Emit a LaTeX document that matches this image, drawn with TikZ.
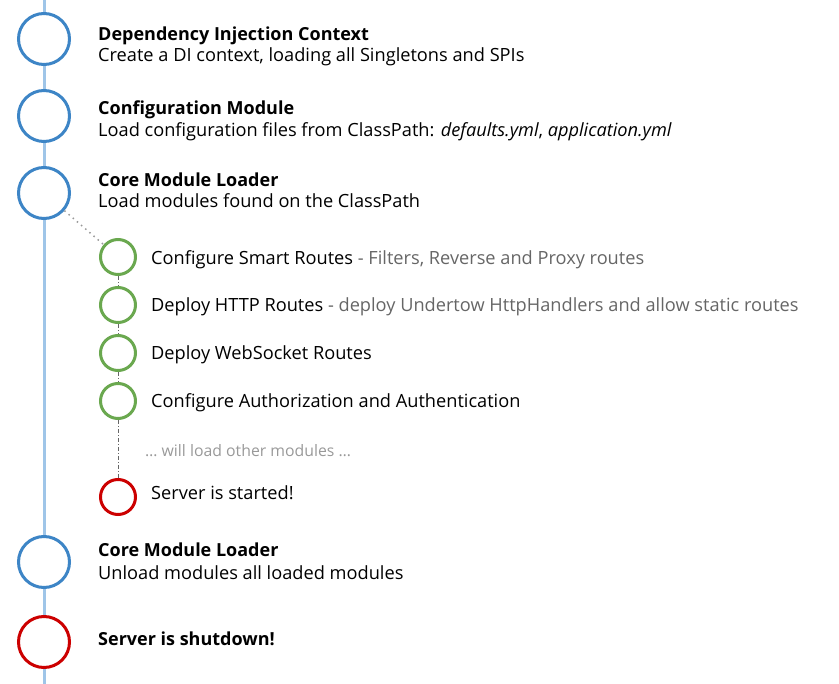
\documentclass[tikz,border=0pt]{standalone}
\usepackage{fontspec}
\setmainfont{Open Sans}
\definecolor{tlline}{HTML}{9FC5E8}
\definecolor{tlblue}{HTML}{3D85C6}
\definecolor{tlgreen}{HTML}{6AA84F}
\definecolor{tlred}{HTML}{CC0000}
\definecolor{tlgray}{HTML}{666666}
\definecolor{tllight}{HTML}{999999}
\tikzset{
  bigc/.style={circle,draw=#1,line width=3pt,fill=white,minimum size=51pt,inner sep=0pt},
  smallc/.style={circle,draw=#1,line width=3pt,fill=white,minimum size=35pt,inner sep=0pt},
  txt/.style={anchor=base west,inner sep=0pt,font=\fontsize{18.2}{22}\selectfont},
  ttl/.style={txt,font=\fontsize{18}{22}\selectfont\bfseries},
  small/.style={anchor=base west,inner sep=0pt,font=\fontsize{15.8}{18}\selectfont,text=tllight},
}
\begin{document}
\begin{tikzpicture}[x=1pt,y=-1pt]
\useasboundingbox (0,0) rectangle (839,684);
\coordinate (top) at (44,0);
\coordinate (bot) at (44,684);
\draw[tlline,line width=3pt] (top) -- (bot);
% big circles
\node[bigc=tlblue] (c1) at (44,39) {};
\node[bigc=tlblue] (c2) at (44,116) {};
\node[bigc=tlblue] (c3) at (44,193) {};
\node[bigc=tlblue] (c4) at (44,562) {};
\node[bigc=tlred] (c5) at (44,642) {};
% small circles
\node[smallc=tlgreen] (g1) at (118,257) {};
\node[smallc=tlgreen] (g2) at (118,305) {};
\node[smallc=tlgreen] (g3) at (118,353) {};
\node[smallc=tlgreen] (g4) at (118,401) {};
\node[smallc=tlred] (r1) at (118,497) {};
% connectors
\draw[tlgray,line width=0.8pt,dash pattern=on 4pt off 2pt on 1pt off 2pt] (g1) -- (g2);
\draw[tlgray,line width=0.8pt,dash pattern=on 4pt off 2pt on 1pt off 2pt] (g2) -- (g3);
\draw[tlgray,line width=0.8pt,dash pattern=on 4pt off 2pt on 1pt off 2pt] (g3) -- (g4);
\draw[tlgray,line width=0.8pt,dash pattern=on 4pt off 2pt on 1pt off 2pt] (g4) -- (r1);
\draw[tllight,line width=1.5pt,dash pattern=on 1.5pt off 4pt] (c3) -- (g1);
% texts
\node[ttl] (t1) at (98,41) {Dependency Injection Context};
\node[txt] (s1) at (98,62) {Create a DI context, loading all Singletons and SPIs};
\node[ttl] (t2) at (98,115) {Configuration Module};
\node[txt] (s2) at (98,137) {Load configuration files from ClassPath: \textit{defaults.yml}, \textit{application.yml}};
\node[ttl] (t3) at (98,187) {Core Module Loader};
\node[txt] (s3) at (98,208) {Load modules found on the ClassPath};
\node[txt] (l1) at (151,265) {Configure Smart Routes \textcolor{tlgray}{- Filters, Reverse and Proxy routes}};
\node[txt] (l2) at (151,312) {Deploy HTTP Routes \textcolor{tlgray}{- deploy Undertow HttpHandlers and allow static routes}};
\node[txt] (l3) at (151,360) {Deploy WebSocket Routes};
\node[txt] (l4) at (151,408) {Configure Authorization and Authentication};
\node[small] (l5) at (145,457) {\dots{} will load other modules \dots};
\node[txt] (l6) at (151,500) {Server is started!};
\node[ttl] (t4) at (98,557) {Core Module Loader};
\node[txt] (s4) at (98,580) {Unload modules all loaded modules};
\node[ttl] (t5) at (98,645) {Server is shutdown!};
\end{tikzpicture}
\end{document}
